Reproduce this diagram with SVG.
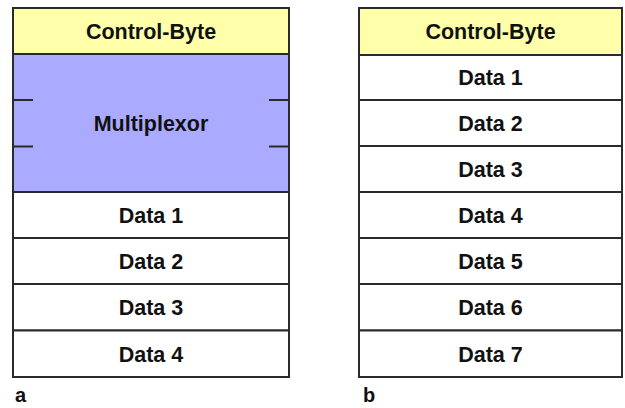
<svg xmlns="http://www.w3.org/2000/svg" width="625" height="408" viewBox="0 0 625 408">
  <style>
    .cell { stroke: #2a2a2a; stroke-width: 2; }
    .ctrl { fill: #ffffaa; }
    .mux { fill: #aaaaff; }
    .data { fill: #ffffff; }
    .tick { stroke: #2a2a2a; stroke-width: 2; fill: none; }
    text { font-family: "Liberation Sans", Arial, sans-serif; font-weight: bold; font-size: 21.5px; fill: #111; }
    .lbl { text-anchor: middle; }
    .cap { font-size: 20px; }
  </style>
  <rect width="625" height="408" fill="#ffffff"/>

  <!-- Frame layout a: control byte, multiplexor, four data bytes -->
  <g id="frame-a">
    <g id="a-control">
      <rect class="cell ctrl" x="13" y="8" width="276" height="46"/>
      <text class="lbl" x="151" y="38.5">Control-Byte</text>
    </g>
    <g id="a-mux">
      <rect class="cell mux" x="13" y="54" width="276" height="138"/>
      <path class="tick" d="M13 100H33M13 146.5H33M269 100H289M269 146.5H289"/>
      <text class="lbl" x="151" y="130.5">Multiplexor</text>
    </g>
    <g id="a-data1">
      <rect class="cell data" x="13" y="192" width="276" height="46"/>
      <text class="lbl" x="151" y="223">Data 1</text>
    </g>
    <g id="a-data2">
      <rect class="cell data" x="13" y="238" width="276" height="46"/>
      <text class="lbl" x="151" y="269">Data 2</text>
    </g>
    <g id="a-data3">
      <rect class="cell data" x="13" y="284" width="276" height="46.5"/>
      <text class="lbl" x="151" y="315">Data 3</text>
    </g>
    <g id="a-data4">
      <rect class="cell data" x="13" y="330.5" width="276" height="46.5"/>
      <text class="lbl" x="151" y="361.5">Data 4</text>
    </g>
    <text id="a-caption" class="cap" x="15" y="402">a</text>
  </g>

  <!-- Frame layout b: control byte followed by seven data bytes -->
  <g id="frame-b">
    <g id="b-control">
      <rect class="cell ctrl" x="359" y="8" width="263" height="47"/>
      <text class="lbl" x="490.5" y="39">Control-Byte</text>
    </g>
    <g id="b-data1">
      <rect class="cell data" x="359" y="55" width="263" height="45"/>
      <text class="lbl" x="490.5" y="85">Data 1</text>
    </g>
    <g id="b-data2">
      <rect class="cell data" x="359" y="100" width="263" height="46"/>
      <text class="lbl" x="490.5" y="131">Data 2</text>
    </g>
    <g id="b-data3">
      <rect class="cell data" x="359" y="146" width="263" height="46"/>
      <text class="lbl" x="490.5" y="177">Data 3</text>
    </g>
    <g id="b-data4">
      <rect class="cell data" x="359" y="192" width="263" height="46"/>
      <text class="lbl" x="490.5" y="223">Data 4</text>
    </g>
    <g id="b-data5">
      <rect class="cell data" x="359" y="238" width="263" height="46"/>
      <text class="lbl" x="490.5" y="269">Data 5</text>
    </g>
    <g id="b-data6">
      <rect class="cell data" x="359" y="284" width="263" height="46.5"/>
      <text class="lbl" x="490.5" y="315">Data 6</text>
    </g>
    <g id="b-data7">
      <rect class="cell data" x="359" y="330.5" width="263" height="46.5"/>
      <text class="lbl" x="490.5" y="361.5">Data 7</text>
    </g>
    <text id="b-caption" class="cap" x="363" y="402">b</text>
  </g>
</svg>
